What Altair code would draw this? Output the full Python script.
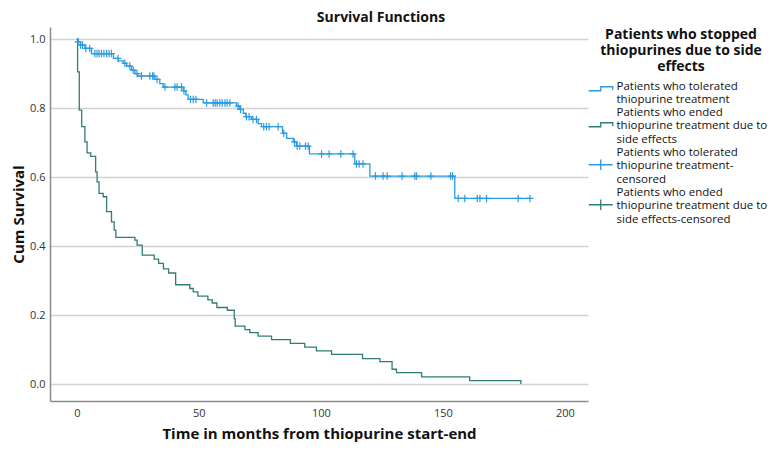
import json
import altair as alt
import pandas as pd

# ---------------- data ----------------
arms = [
    "Patients who tolerated thiopurine treatment",
    "Patients who ended thiopurine treatment due to side effects",
]
arm_colors = ["#2b9be3", "#2f7d74"]

# Kaplan-Meier steps: tolerated (blue)
tol_t = [0, 0.5, 1.5, 3.3, 6.0, 15.0, 17.0, 19.0, 20.4, 22.4, 23.8, 24.9, 32.0, 34.0,
         35.4, 43.6, 44.7, 45.6, 51.8, 65.4, 66.8, 68.2, 69.3, 71.6, 74.3, 75.7, 84.3,
         86.0, 88.7, 90.0, 95.3, 113.9, 120.1, 154.9, 185.7]
tol_s = [1.0, 0.992, 0.983, 0.973, 0.958, 0.944, 0.937, 0.930, 0.922, 0.910, 0.900,
         0.893, 0.883, 0.871, 0.861, 0.850, 0.838, 0.825, 0.815, 0.806, 0.796, 0.785,
         0.775, 0.767, 0.755, 0.746, 0.727, 0.712, 0.702, 0.690, 0.667, 0.638, 0.603,
         0.538, 0.538]
tol_censored = [0.5, 1.5, 2.3, 3.7, 5.3, 7.4, 8.3, 9.1, 10.1, 11.1, 12.2, 13.2, 14.2,
                16.9, 19.7, 21.7, 23.1, 24.7, 26.5, 29.9, 31.0, 31.6, 32.9, 36.1, 40.2,
                41.1, 42.9, 43.9, 46.6, 47.7, 48.8, 53.2, 55.9, 56.7, 57.5, 58.6, 59.6,
                60.7, 61.6, 62.7, 66.1, 67.1, 69.5, 70.6, 72.2, 73.6, 76.6, 77.7, 78.8,
                82.5, 84.8, 89.2, 90.3, 91.4, 93.7, 94.8, 100.3, 103.4, 108.2, 113.2,
                114.6, 115.7, 117.3, 122.4, 125.5, 127.2, 133.3, 138.5, 139.2, 145.1,
                153.2, 154.0, 156.3, 159.0, 164.1, 165.2, 167.9, 180.9, 185.7]

# Kaplan-Meier steps: ended due to side effects (green)
end_t = [0, 0.3, 1.0, 2.0, 3.3, 4.2, 5.7, 7.7, 8.3, 9.1, 10.8, 12.2, 14.2, 15.3, 16.0,
         23.8, 24.7, 26.8, 31.7, 33.5, 35.5, 37.6, 40.5, 46.3, 47.7, 49.6, 53.7, 55.5,
         57.4, 61.7, 64.5, 64.9, 68.9, 70.9, 74.3, 79.8, 87.5, 93.4, 98.2, 104.4, 117.1,
         124.2, 129.2, 131.0, 141.3, 161.0, 182.0]
end_s = [1.0, 0.905, 0.794, 0.746, 0.702, 0.670, 0.660, 0.615, 0.586, 0.553, 0.543,
         0.500, 0.470, 0.446, 0.425, 0.417, 0.403, 0.374, 0.362, 0.350, 0.334, 0.322,
         0.288, 0.277, 0.267, 0.255, 0.244, 0.235, 0.222, 0.214, 0.190, 0.168, 0.158,
         0.149, 0.139, 0.129, 0.118, 0.107, 0.096, 0.086, 0.074, 0.065, 0.043, 0.033,
         0.021, 0.010, 0.0]

legend_groups = [arms[0], arms[1], arms[0] + "-censored", arms[1] + "-censored"]
legend_lines = {
    legend_groups[0]: ["Patients who tolerated", "thiopurine treatment"],
    legend_groups[1]: ["Patients who ended", "thiopurine treatment due to", "side effects"],
    legend_groups[2]: ["Patients who tolerated", "thiopurine treatment-", "censored"],
    legend_groups[3]: ["Patients who ended", "thiopurine treatment due to", "side effects-censored"],
}

x_ticks = [0, 50, 100, 150, 200]
y_ticks = [0.0, 0.2, 0.4, 0.6, 0.8, 1.0]

# ---------------- tables ----------------
curve = pd.concat([
    pd.DataFrame({"t": tol_t, "s": tol_s, "arm": arms[0]}),
    pd.DataFrame({"t": end_t, "s": end_s, "arm": arms[1]}),
], ignore_index=True)


def surv_at(ts, ss, t):
    val = ss[0]
    for a, b in zip(ts, ss):
        if a <= t:
            val = b
    return val


cens = pd.DataFrame({
    "t": tol_censored,
    "s": [surv_at(tol_t, tol_s, c) for c in tol_censored],
    "arm": arms[0],
})
legend_df = pd.DataFrame({"group": legend_groups})

FONT = "Open Sans"


# legend symbol paths (unit = 4 px with symbolSize 64), d shifts them down
def step_sym(d):
    return f"M-3,{0.5 + d:.2f}H0V{-0.5 + d:.2f}H3V{0.36 + d:.2f}"


def cross_sym(d):
    return f"M-3,{d:.2f}H3M0,{-1.3 + d:.2f}V{1.3 + d:.2f}"


cross_pt = "M-0.9,0H0.9M0,-1V1"

stroke_scale = alt.Scale(domain=arms, range=arm_colors)

x_enc = alt.X(
    "t:Q",
    scale=alt.Scale(domain=[-11, 209.5], nice=False, zero=False),
    axis=alt.Axis(values=x_ticks, grid=False, ticks=False, labelPadding=6,
                  labelFontSize=11, labelColor="#333333", domainColor="#8a8a8a",
                  domainWidth=1.5, title="Time in months from thiopurine start-end",
                  titleFontSize=15, titleFontWeight="bold", titleColor="#111111",
                  titlePadding=8),
)
y_enc = alt.Y(
    "s:Q",
    scale=alt.Scale(domain=[-0.049, 1.035], nice=False, zero=False),
    axis=alt.Axis(values=y_ticks, format=".1f", ticks=False, labelPadding=5,
                  labelFontSize=11, labelColor="#333333", grid=True,
                  gridColor="#d2d2d2", gridWidth=1.5, domainColor="#8a8a8a",
                  domainWidth=1.5, title="Cum Survival", titleFontSize=15,
                  titleFontWeight="bold", titleColor="#111111", titlePadding=3),
)

lines = alt.Chart(curve).mark_line(interpolate="step-after", strokeWidth=1.3).encode(
    x=x_enc, y=y_enc,
    stroke=alt.Stroke("arm:N", scale=stroke_scale, legend=None),
    detail="arm:N",
)

ticks = alt.Chart(cens).mark_point(shape=cross_pt, size=56, filled=False,
                                    strokeWidth=1.2, opacity=1).encode(
    x="t:Q", y="s:Q",
    stroke=alt.Stroke("arm:N", scale=stroke_scale, legend=None),
)

label_expr = ""
for g in legend_groups[:-1]:
    label_expr += "datum.label == " + json.dumps(g) + " ? " + json.dumps(legend_lines[g]) + " : "
label_expr += json.dumps(legend_lines[legend_groups[-1]])

legend_layer = alt.Chart(legend_df).mark_point(filled=False, opacity=0).encode(
    color=alt.Color(
        "group:N",
        scale=alt.Scale(domain=legend_groups,
                        range=[arm_colors[0], arm_colors[1], arm_colors[0], arm_colors[1]]),
        legend=alt.Legend(
            title=["Patients who stopped", "thiopurines due to side", "effects"],
            titleFontSize=14, titleFontWeight="bold", titleColor="#111111",
            titleLineHeight=16, titleAnchor="middle", titleAlign="center",
            titlePadding=7, labelExpr=label_expr, labelFontSize=11.5,
            labelColor="#111111", labelLimit=300, labelOffset=10,
            symbolSize=64, symbolStrokeWidth=1.3, symbolOpacity=1,
            symbolFillColor="transparent", rowPadding=0,
            orient="none", legendX=545, legendY=1, padding=0,
        ),
    ),
    shape=alt.Shape(
        "group:N",
        scale=alt.Scale(domain=legend_groups,
                        range=[step_sym(0.5), step_sym(3.0), cross_sym(3.0), cross_sym(3.0)]),
    ),
)

chart = alt.layer(lines, ticks, legend_layer).properties(
    width=538,
    height=374,
    title=alt.TitleParams("Survival Functions", fontSize=14, fontWeight="bold",
                          color="#111111", anchor="middle", frame="group",
                          dx=62, offset=2),
    autosize=alt.AutoSizeParams(type="none"),
    padding={"left": 42, "top": 19, "right": 185, "bottom": 42},
).configure(font=FONT).configure_view(stroke=None)

chart.save("out.html", embed_options={"renderer": "svg", "actions": False})
